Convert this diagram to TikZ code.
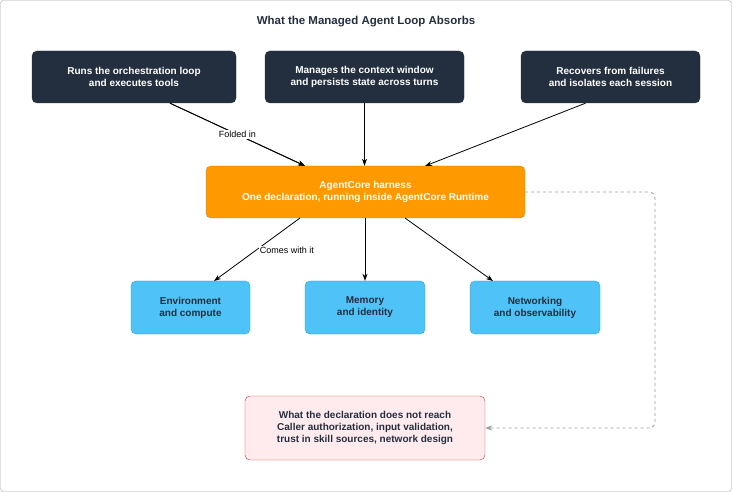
\documentclass[tikz,border=0pt]{standalone}
\usepackage{fontspec}
\setmainfont{Liberation Sans}
\usetikzlibrary{arrows.meta}
\definecolor{dark}{HTML}{232F3E}
\definecolor{orng}{HTML}{FF9900}
\definecolor{orngb}{HTML}{D98200}
\definecolor{blu}{HTML}{4FC3F7}
\definecolor{blub}{HTML}{2A9FD6}
\definecolor{redf}{HTML}{FFEBEE}
\definecolor{redb}{HTML}{D32F2F}
\begin{document}
\begin{tikzpicture}[x=1pt,y=-1pt,
  box/.style={rounded corners=5pt,align=center,font=\fontsize{10}{12}\selectfont\bfseries,inner sep=0pt},
  darkbox/.style={box,fill=dark,draw=dark,text=white},
  obox/.style={box,fill=orng,draw=orngb,text=white},
  bbox/.style={box,fill=blu,draw=blub,text=dark},
  rbox/.style={box,fill=redf,draw=redb,text=dark},
  arr/.style={-{Stealth[length=7pt,width=5pt]},thick,black},
  lbl/.style={fill=white,font=\fontsize{9}{11}\selectfont,inner sep=1pt}]
\useasboundingbox (0,0) rectangle (732,492);
\draw[gray!70,rounded corners=3pt] (0.5,0.5) rectangle (731.5,491.5);
\node[font=\fontsize{11.5}{14}\selectfont\bfseries,text=dark] (title) at (366,22) {What the Managed Agent Loop Absorbs};
\node[darkbox,minimum width=204pt,minimum height=52pt] (a) at (134,77) {Runs the orchestration loop\\and executes tools};
\node[darkbox,minimum width=199pt,minimum height=52pt] (b) at (364.5,77) {Manages the context window\\and persists state across turns};
\node[darkbox,minimum width=179pt,minimum height=52pt] (c) at (610.5,77) {Recovers from failures\\and isolates each session};
\node[obox,minimum width=319pt,minimum height=52pt] (h) at (365.5,192) {AgentCore harness\\One declaration, running inside AgentCore Runtime};
\node[bbox,minimum width=119pt,minimum height=53pt] (e) at (190.5,307.5) {Environment\\and compute};
\node[bbox,minimum width=120pt,minimum height=53pt] (m) at (365,307.5) {Memory\\and identity};
\node[bbox,minimum width=130pt,minimum height=53pt] (n) at (535,307.5) {Networking\\and observability};
\node[rbox,minimum width=240pt,minimum height=64pt] (r) at (365,428) {What the declaration does not reach\\Caller authorization, input validation,\\trust in skill sources, network design};
\draw[arr] (a.south) ++(36,0) coordinate (a1) -- (h.north -| 305,0) coordinate (h1);
\draw[arr] (a1) -- (305,166) node[lbl,pos=0.5] {Folded in};
\draw[arr] (b.south) -- (b.south |- h.north);
\draw[arr] (c.south) ++(-25,0) coordinate (c1) -- (425,166);
\draw[arr] (300,218) -- (214,281) node[lbl,pos=0.5,xshift=30pt,yshift=-1pt] {Comes with it};
\draw[arr] (m.north |- h.south) -- (m.north);
\draw[arr] (405,218) -- (493,281);
\draw[-{Stealth[length=7pt,width=5pt]},thick,gray!80,dashed,rounded corners=6pt] (h.east) -- (655,192) -- (655,428) -- (r.east);
\end{tikzpicture}
\end{document}
